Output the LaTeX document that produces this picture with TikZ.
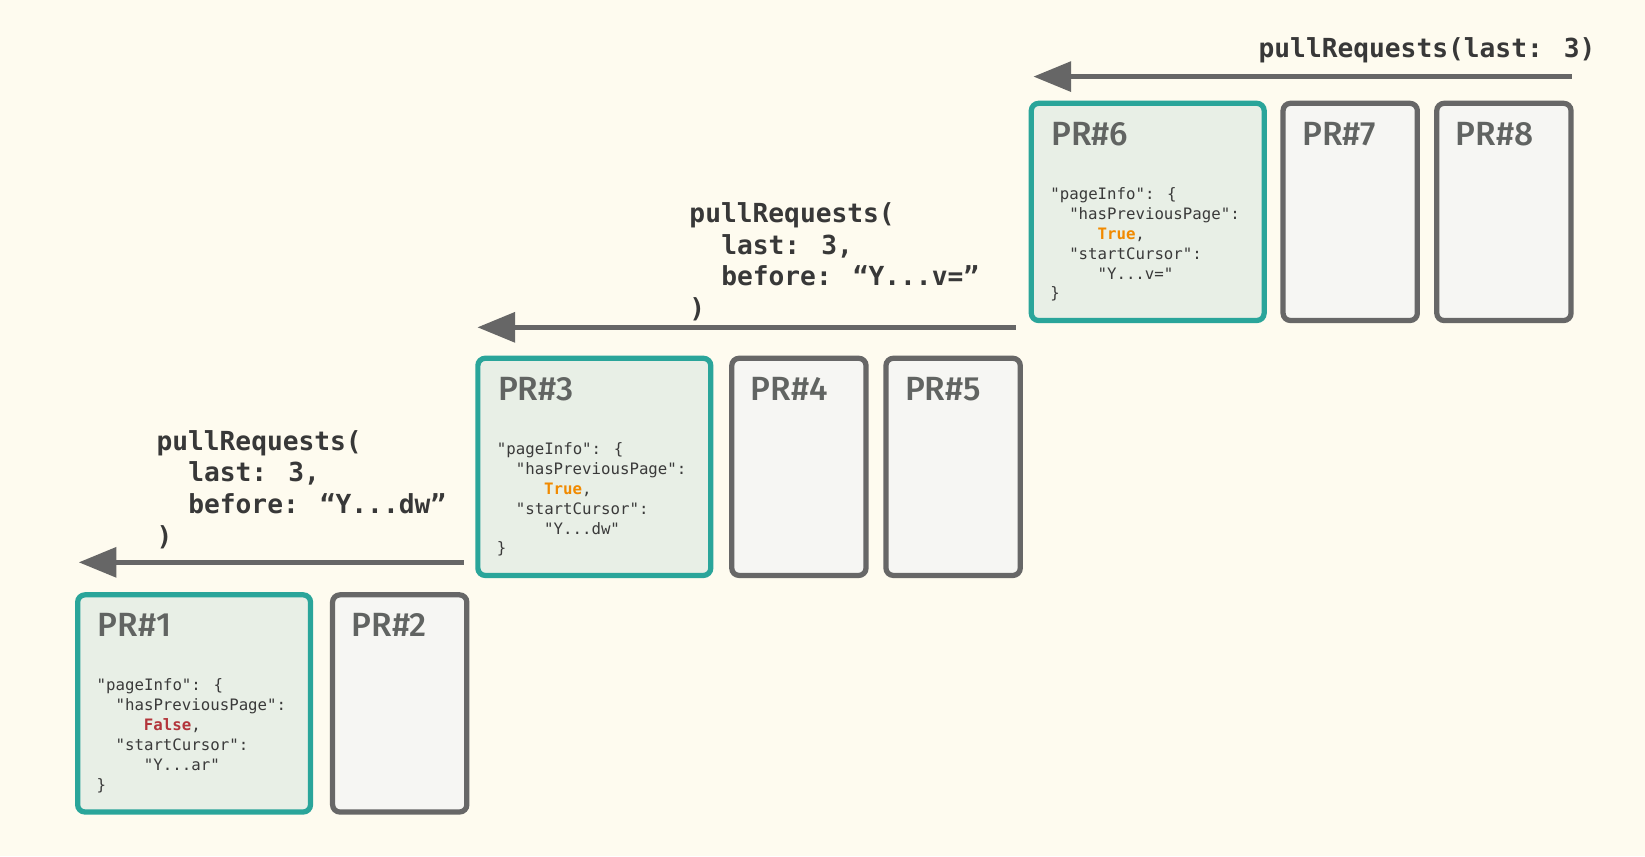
\documentclass[tikz,border=0pt]{standalone}
\usepackage{fontspec}
\usetikzlibrary{arrows.meta}
\newfontfamily\labfont{Fira Sans Medium}
\newfontfamily\monofnt{DejaVu Sans Mono}
\definecolor{bg}{HTML}{FEFBEF}
\definecolor{tealline}{HTML}{2AA59A}
\definecolor{tealfill}{HTML}{E8EFE6}
\definecolor{grayline}{HTML}{676767}
\definecolor{grayfill}{HTML}{F6F6F3}
\definecolor{labcol}{HTML}{616462}
\definecolor{codecol}{HTML}{3A3A3A}
\definecolor{qcol}{HTML}{383838}
\definecolor{arrcol}{HTML}{666666}
\definecolor{truecol}{HTML}{F18A00}
\definecolor{falsecol}{HTML}{B3353B}
\tikzset{
  tealbox/.style={draw=tealline, fill=tealfill, line width=5pt, rounded corners=7pt,
    inner sep=0pt, outer sep=0pt, minimum width=222pt, minimum height=207pt},
  graybox/.style={draw=grayline, fill=grayfill, line width=5pt, rounded corners=7pt,
    inner sep=0pt, outer sep=0pt, minimum width=128pt, minimum height=207pt},
  prlab/.style={font=\labfont\fontsize{32}{38}\selectfont, text=labcol, anchor=base west, inner sep=0pt},
  code/.style={font=\monofnt\fontsize{15}{19}\selectfont, text=codecol, anchor=base west, inner sep=0pt},
  query/.style={font=\monofnt\bfseries\fontsize{25}{30}\selectfont, text=qcol, anchor=base west, inner sep=0pt},
  arr/.style={draw=arrcol, line width=5pt, -{Triangle[length=36pt,width=28pt]}},
}
% #1 box name, #2 value, #3 value colour, #4 cursor
\newcommand\prcode[4]{%
  \path (#1.north west) ++(18,91.5) node[code] (#1c1) {"pageInfo": \{}
    ++(18,19) node[code] (#1c2) {"hasPreviousPage":}
    ++(27,19) node[code] (#1c3) {\textcolor{#3}{\bfseries #2},}
    ++(-27,19) node[code] (#1c4) {"startCursor":}
    ++(27,19) node[code] (#1c5) {"#4"}
    ++(-45,19) node[code] (#1c6) {\}};%
}
\newcommand\prlabel[3]{% box, text, x offset
  \path (#1.north west) ++(#3,40) node[prlab] (#1lab) {#2};%
}
\begin{document}
\begin{tikzpicture}[x=1pt,y=-1pt]
\fill[bg] (0,0) rectangle (1568,816);
\useasboundingbox (0,0) rectangle (1568,816);

% boxes
\node[tealbox] (pr1) at (185,670.5) {};
\node[graybox] (pr2) at (381,670.5) {};
\node[tealbox] (pr3) at (566.5,445) {};
\node[graybox] (pr4) at (761.5,445) {};
\node[graybox] (pr5) at (908.5,445) {};
\node[tealbox] (pr6) at (1094,202) {};
\node[graybox] (pr7) at (1287,202) {};
\node[graybox] (pr8) at (1433.5,202) {};

\prlabel{pr1}{PR\#1}{19}
\prlabel{pr2}{PR\#2}{18}
\prlabel{pr3}{PR\#3}{19}
\prlabel{pr4}{PR\#4}{18}
\prlabel{pr5}{PR\#5}{18}
\prlabel{pr6}{PR\#6}{19}
\prlabel{pr7}{PR\#7}{18}
\prlabel{pr8}{PR\#8}{18}

\prcode{pr1}{False}{falsecol}{Y...ar}
\prcode{pr3}{True}{truecol}{Y...dw}
\prcode{pr6}{True}{truecol}{Y...v=}

% arrows
\coordinate (a1s) at (1498,73);
\coordinate (a1e) at (985,73);
\coordinate (a2s) at (968,312);
\coordinate (a2e) at (455,312);
\coordinate (a3s) at (442,536);
\coordinate (a3e) at (75,536);
\draw[arr] (a1s) -- (a1e);
\draw[arr] (a2s) -- (a2e);
\draw[arr] (a3s) -- (a3e);

% queries
\node[query, anchor=base east] (q1) at (1521,55) {pullRequests(last: 3)};

\coordinate (q2o) at (657,212);
\path (q2o) node[query] (q2a) {pullRequests(}
  ++(30.3,30.3) node[query] (q2b) {last: 3,}
  ++(0,30.3) node[query] (q2c) {before: “Y...v=”}
  ++(-30.3,30.3) node[query] (q2d) {)};

\coordinate (q3o) at (149,429);
\path (q3o) node[query] (q3a) {pullRequests(}
  ++(30.3,30.3) node[query] (q3b) {last: 3,}
  ++(0,30.3) node[query] (q3c) {before: “Y...dw”}
  ++(-30.3,30.3) node[query] (q3d) {)};
\end{tikzpicture}
\end{document}
